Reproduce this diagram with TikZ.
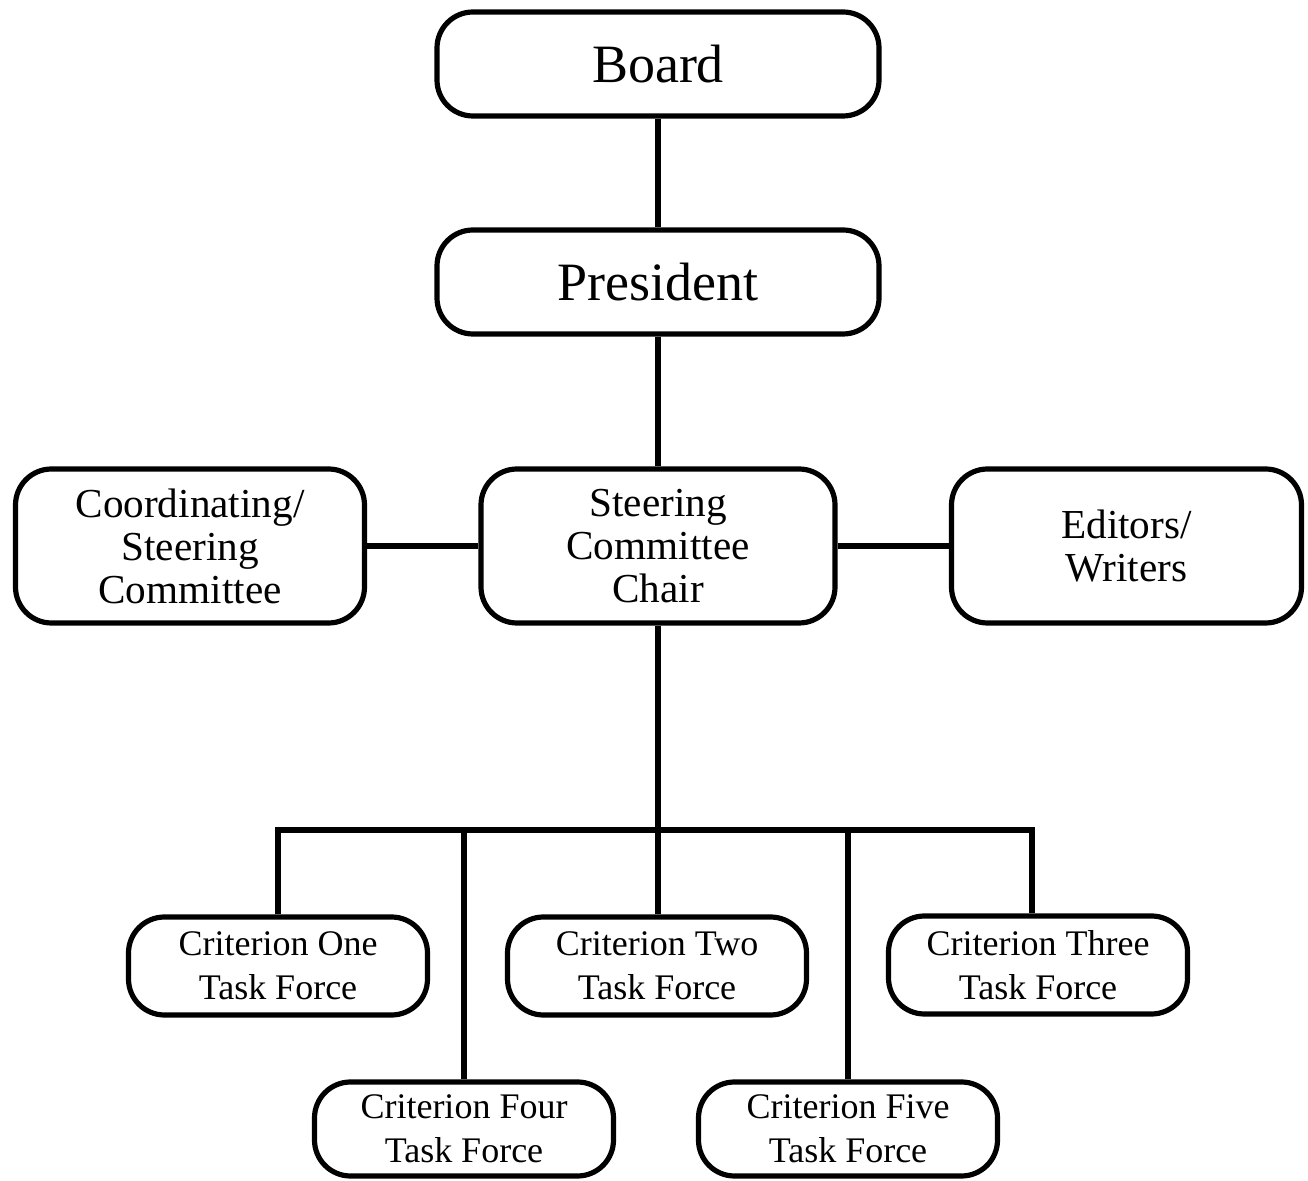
\documentclass[tikz,border=0pt]{standalone}
\usepackage{fontspec}
\setmainfont{Liberation Serif}
\begin{document}
\begin{tikzpicture}[x=0.5pt,y=-0.5pt,
  box/.style={draw, line width=2.6pt, rounded corners=18pt, align=center, inner sep=0pt},
  bigbox/.style={box, font=\fontsize{27}{30}\selectfont, minimum width=221pt, minimum height=52pt},
  midbox/.style={box, font=\fontsize{20.6}{21.5}\selectfont, minimum height=77pt},
  critbox/.style={box, font=\fontsize{18}{22}\selectfont, minimum width=149.5pt, minimum height=49pt},
  conn/.style={line width=2.6pt}]
\useasboundingbox (0,0) rectangle (1308,1181);
\node[bigbox] (board) at (658,64) {Board};
\node[bigbox] (pres) at (658,282) {President};
\node[midbox, minimum width=174.5pt] (coord) at (190,546) {Coordinating/\\Steering\\Committee};
\node[midbox, minimum width=177pt] (chair) at (658,546) {Steering\\Committee\\Chair};
\node[midbox, minimum width=175pt] (edit) at (1126.5,546) {Editors/\\Writers};
\node[critbox] (c1) at (278,966) {Criterion One\\Task Force};
\node[critbox] (c2) at (657,966) {Criterion Two\\Task Force};
\node[critbox] (c3) at (1038,965) {Criterion Three\\Task Force};
\node[critbox, minimum height=47pt] (c4) at (464,1129) {Criterion Four\\Task Force};
\node[critbox, minimum height=47pt] (c5) at (848,1129) {Criterion Five\\Task Force};
\coordinate (bar) at (658,830);
\coordinate (d1) at (278,830);
\coordinate (d3) at (1032,830);
\draw[conn] (board) -- (pres);
\draw[conn] (pres) -- (chair);
\draw[conn] (coord) -- (chair);
\draw[conn] (chair) -- (edit);
\draw[conn] (chair.south) -- (bar |- c2.north);
\draw[conn] (d1 |- c1.north) -- (d1) -- (d3) -- (d3 |- c3.north);
\draw[conn] (c4.north) -- (c4.north |- bar);
\draw[conn] (c5.north) -- (c5.north |- bar);
\end{tikzpicture}
\end{document}
